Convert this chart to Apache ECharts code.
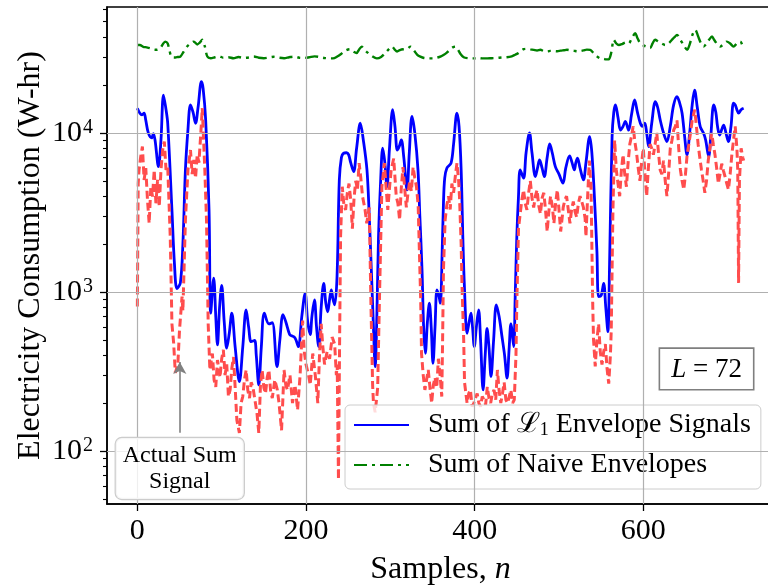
<!DOCTYPE html>
<html>
<head>
<meta charset="utf-8">
<script src="https://cdn.jsdelivr.net/npm/echarts@6/dist/echarts.min.js"></script>
<style>html,body{margin:0;padding:0;background:#fff}#chart{width:768px;height:587px}</style>
</head>
<body>
<div id="chart"></div>
<script>
// ---------- data (sample index n, watt-hours) ----------
const l1Envelope = [[0,14300],[3,13300],[5.5,13000],[8,13300],[10,12000],[13,10000],[17,9300],[19,9900],[21,9000],[25,6140],[28,9000],[31,17300],[34,14000],[36,11500],[41,3280],[44,1500],[47,1050],[51,1140],[54,2000],[57,5850],[60,10500],[63,15000],[66,13500],[69,11500],[72,14500],[76,21000],[78,19000],[81,12100],[85,3280],[87,735],[90.5,1220],[93,700],[95,465],[97.5,800],[100,1100],[103,650],[106,443],[109,550],[112,735],[116,450],[121,273],[125,450],[129,771],[132,600],[135,487],[139,495],[141,400],[144,260],[147,450],[150.6,735],[156,630],[160,640],[165.6,339],[169,500],[172.7,720],[176,650],[180.6,540],[183,530],[186,520],[188,500],[191,453],[195,700],[199,980],[202,650],[205,540],[207,700],[210,890],[212.5,600],[215,453],[218,800],[221,1130],[223.5,850],[225.7,750],[228,900],[230,1030],[232,900],[234,830],[236.8,1250],[239.5,5060],[242,7000],[244.6,7450],[248,7500],[250.5,7300],[253,6500],[256.5,5710],[260,8000],[264.4,11500],[268,9000],[272.3,5850],[275,3000],[277.5,1370],[280,600],[282,339],[284,700],[286,2230],[288.5,5000],[291,8010],[293.5,6500],[296,4590],[299,8000],[302.8,14000],[305.5,11000],[308.3,7800],[310.5,8200],[313,9040],[316,7000],[319.8,4380],[322.5,7500],[325.7,12700],[329,10000],[332.8,5850],[335,3000],[337.6,1370],[339.5,600],[341.5,411],[344,650],[346.3,850],[348.5,600],[350.6,356],[353,600],[355.3,1030],[357.5,950],[359.3,850],[361.5,1800],[363,3610],[364.5,5200],[367,6000],[372,6460],[375,8500],[379,13300],[381.5,11000],[384,5850],[386,2200],[387.8,1100],[391,550],[393.5,650],[395.7,735],[397.5,600],[399.6,453],[402,600],[404.7,771],[407,500],[410,242],[412.5,400],[414.7,590],[417,450],[419.4,294],[422.5,500],[425.7,830],[429,700],[432.4,524],[435.5,400],[438.4,287],[441,450],[443,630],[446.3,453],[448,900],[450,2230],[452,4000],[454,5850],[458,5190],[461,7500],[465,10000],[468,7500],[472,5310],[474.5,6000],[477,6760],[480,6000],[482.6,5310],[486,7000],[489,8530],[492,7500],[495.7,6140],[500,5500],[504.8,4830],[508,6000],[512.6,7170],[515.5,6500],[518.2,5850],[520,6500],[522,6930],[525,6000],[529,5060],[532,6500],[536.4,9480],[539,7500],[542,3980],[545,1800],[547,935],[550,950],[553,1130],[555.5,800],[558,563],[560,1500],[563,9480],[565,13500],[567,15000],[570,12500],[573,10400],[576,11000],[578.7,11800],[582.6,10400],[586,13000],[589.7,16100],[593,13500],[596.5,11500],[599,11000],[601.7,11500],[604,10000],[606.4,8200],[610,11500],[614.3,15700],[617,14500],[620,12100],[624,10000],[628,8820],[632,11000],[636,15000],[640,16900],[643,15500],[646,13300],[649,9500],[651.8,7280],[655,10000],[658,15000],[660.8,18600],[664,14500],[667.6,10900],[671.5,9950],[674,9000],[677.5,7100],[680,9500],[683.5,15000],[686,13500],[688,11000],[690.5,9700],[693,10500],[695.3,11200],[698,10000],[701,8820],[704,11000],[707,15400],[709,15000],[711,14000],[713,13300],[716,14000],[719,14300]];

const naiveEnvelope = [[0,35700],[3,35700],[7,34800],[11,34500],[15,34100],[19,33500],[23,33300],[27,34000],[30,36000],[33,37500],[36,36500],[38,33000],[41,29900],[45,29800],[48,30000],[51,30200],[55,32500],[59,34900],[63,36500],[67,37500],[71,36000],[74,37000],[77,38500],[80,35000],[83,30200],[87,29500],[92,29900],[97,30300],[102,29700],[108,29900],[114,29500],[120,30000],[126,29600],[132,29800],[138,30200],[144,29700],[150,29500],[156,29800],[162,30100],[168,29700],[174,29500],[180,29900],[186,30200],[192,29700],[198,29600],[204,29900],[210,30300],[216,30000],[222,29600],[228,29400],[232,29400],[237,30200],[242,31500],[247,33000],[252,33600],[256,32500],[260,31800],[263,33500],[266,34900],[269,33500],[273,32000],[278,30500],[284,29400],[289,30000],[294,31800],[298,33500],[302,34900],[305,33500],[308,32500],[312,33300],[316,33600],[320,33800],[324,34900],[328,33000],[332,31000],[335.6,30200],[340,29600],[346,29400],[351,29400],[356,29800],[360,30300],[363,30900],[367,32000],[371,33500],[374,34500],[377,34900],[380,33500],[383,31500],[387,29900],[392,29500],[398,29400],[404,29600],[410,29400],[415,29400],[420,29500],[426,29600],[432,29800],[438,29900],[444,30300],[448,31000],[452,31800],[455,32800],[458,33600],[462,33800],[466,33500],[470,33300],[474,33000],[478,33300],[482,32700],[486,32500],[490,32800],[494,32700],[498,32600],[502,32900],[506,33100],[509.5,33300],[514,33000],[518,32800],[522,32600],[525,32700],[529,33000],[533,33400],[537,33300],[541,31800],[545,30300],[549,29400],[553,29200],[556,29000],[559,29000],[562,32000],[565,38500],[568,36500],[571,35700],[575,36200],[579,37000],[582.6,36500],[586,39000],[590.5,42400],[593,39500],[596.5,36500],[600,35500],[604,34800],[608,34100],[611,36500],[614,38500],[618,37500],[622,36500],[626,35700],[630,36500],[634,38500],[637,40000],[640,41300],[644,38500],[648,35500],[652,33300],[655,36000],[658,41000],[661.7,44500],[665,40500],[668,37000],[671.5,34900],[675,36500],[678,38500],[681.5,40400],[684,38500],[688,36000],[691,34900],[695,36000],[699,37500],[703,36500],[707,34900],[711,36500],[715,37500],[718,34900]];

const actualSum = [[0,810],[1,4800],[2,5850],[4,7100],[6,8200],[8,5060],[10,6000],[12,3790],[14,2700],[16,4590],[18,3980],[20,5850],[22,3610],[24,5060],[26,3440],[28,5850],[30,7800],[32,8820],[34,5850],[36,6140],[38,3130],[39,2230],[41,630],[43,480],[45,310],[48,350],[50,577],[53,935],[54,760],[57,2840],[60,5850],[63,7800],[65,5500],[67,6760],[69,5200],[71,7300],[73,6500],[75,9480],[77,14300],[80,5850],[82,2840],[84,630],[86,323],[89,410],[91,280],[93,253],[95,373],[98,290],[100,380],[102,432],[104,300],[106,350],[108,220],[110,242],[112,330],[114,390],[116,250],[118,156],[121,130],[123,200],[125,220],[127,280],[129,323],[131,240],[133,215],[135,270],[137,253],[140,200],[142,170],[144,130],[146,260],[148,323],[150,250],[152,230],[154,290],[156,323],[158,240],[160,215],[163,280],[166,242],[168,200],[171,135],[174,323],[176,260],[178,242],[181,300],[184,200],[187,260],[190,181],[193,300],[196,660],[198,420],[200,350],[203,300],[205,260],[208,410],[211,300],[214,200],[216,400],[218,630],[220,450],[222,350],[225,420],[228,380],[231,520],[234,470],[236,300],[237,350],[238.5,66],[240,600],[241,2230],[243,4590],[245,3500],[247,3280],[249,4200],[251,4800],[253,3800],[255,2500],[257,3900],[259,5000],[261,4400],[263,6460],[265,5200],[267,4000],[270,3300],[272,2700],[275,3400],[277,850],[279,260],[280,200],[282,175],[284,220],[285,250],[287,850],[290,4590],[293,6460],[295,4500],[297,3280],[299,4500],[301,5850],[304,6900],[307,4000],[309,3600],[311,2840],[313,4500],[315,6100],[317,4500],[319,3400],[321,4200],[323,5000],[325,4300],[327,6100],[329,5200],[331,4590],[333,3500],[334,2230],[336,900],[337,410],[339,300],[341,242],[343,280],[345,323],[347,250],[349,200],[351,260],[353,290],[355,250],[357,380],[359,300],[361,220],[362,500],[363,1370],[365,2840],[367,3500],[369,4000],[371,3300],[373,4800],[375,4200],[377,5300],[379,6460],[381,5000],[382,4000],[384,2000],[385,1100],[387,500],[388,270],[391,200],[393,230],[395,242],[397,190],[399,200],[401,215],[403,230],[405,200],[407,190],[409,220],[411,210],[413,195],[415,253],[417,215],[419,200],[421,230],[423,242],[425,210],[427,323],[429,240],[431,200],[433,230],[435,270],[437,210],[439,200],[441,220],[443,242],[445,200],[447,210],[449,400],[450,850],[452,2500],[454,3100],[456,3800],[458,4380],[460,3600],[462,3280],[464,4200],[466,5000],[468,3900],[470,3400],[472,4000],[474,4380],[476,3500],[478,3100],[480,3900],[482,4200],[484,3300],[486,2400],[488,3200],[490,4000],[492,3500],[494,2700],[496,3600],[498,4380],[500,3300],[502,2400],[504,3000],[505,3400],[507,3800],[509,4000],[511,3300],[513,2700],[515,3300],[517,3700],[519,3200],[521,2950],[523,3600],[525,4000],[527,3700],[529,3400],[531,2900],[532,2230],[534,4000],[536,6700],[538,4590],[540,850],[541,500],[543,340],[545,500],[547,630],[549,420],[551,350],[553,420],[555,470],[557,330],[559,265],[561,400],[562,580],[564,3280],[566,9000],[568,5850],[570,4800],[572,4000],[574,5800],[576,7300],[578,5500],[580,4590],[582,6500],[584,8500],[586,9500],[588,11000],[590,8800],[592,7500],[594,6000],[596,5000],[598,6500],[600,8000],[602,5500],[604,4000],[606,6000],[608,8500],[610,8000],[612,7300],[614,8500],[616,10000],[618,7500],[620,5850],[622,5500],[624,6700],[626,5000],[628,4000],[630,5500],[632,8000],[634,9000],[636,10400],[638,11000],[640,12000],[642,8000],[644,5850],[646,5000],[648,4400],[650,5500],[652,7300],[654,8500],[656,10000],[658,12000],[661,14000],[663,11000],[665,8500],[667,7000],[669,5850],[671,5000],[673,4200],[675,5000],[677,6700],[679,8000],[681,10000],[683,8500],[685,7300],[687,6000],[689,4800],[691,5500],[693,6400],[695,5800],[697,5300],[699,4800],[701,4400],[703,5500],[705,7300],[707,9000],[709,11000],[711,8000],[712,5850],[713,1140],[714,5000],[716,8000],[718,7000],[719,6700]];

const xTicks = [0, 200, 400, 600];
const yMajorTicks = [100, 1000, 10000];
const yMinorTicks = [50,60,70,80,90,200,300,400,500,600,700,800,900,2000,3000,4000,5000,6000,7000,8000,9000,20000,30000,40000,50000,60000];
const seriesNames = ['Sum of L1 Envelope Signals', 'Sum of Naive Envelopes', 'Actual Sum Signal'];
const annotationText = 'Actual Sum\nSignal';
const windowLabel = '{i|L}{t| = 72}';
// ---------------------------------------------------------

const FONT = 'Liberation Serif';
const chart = echarts.init(document.getElementById('chart'), null, {renderer: 'canvas'});

const option = {
  animation: false,
  backgroundColor: '#ffffff',
  grid: {left: 107, top: 7, width: 667, height: 497, containLabel: false, outerBoundsMode: 'none',
         show: true, borderColor: '#000', borderWidth: 1.5, backgroundColor: 'transparent'},
  xAxis: {
    type: 'value', min: -36, max: 755,
    axisLine: {onZero: false, lineStyle: {color: '#000', width: 1.5}},
    axisTick: {length: 7, lineStyle: {color: '#000', width: 1.3}, customValues: xTicks},
    axisLabel: {customValues: xTicks, fontSize: 30, color: '#000', fontFamily: FONT, margin: 12},
    splitLine: {show: false},
    name: '{t|Samples, }{i|n}', nameLocation: 'middle', nameGap: 50, nameMoveOverlap: false,
    nameTextStyle: {fontSize: 32, color: '#000', fontFamily: FONT,
      rich: {t: {fontSize: 32, fontFamily: FONT, color: '#000'},
             i: {fontStyle: 'italic', fontSize: 32, fontFamily: FONT, color: '#000'}}}
  },
  yAxis: [{
    type: 'log', logBase: 10, min: 46.4, max: 61900,
    axisLine: {show: true, onZero: false, lineStyle: {color: '#000', width: 1.5}},
    axisTick: {length: 7, lineStyle: {color: '#000', width: 1.3}, customValues: yMajorTicks},
    axisLabel: {customValues: yMajorTicks, margin: 14, color: '#000', fontFamily: FONT, fontSize: 30,
      formatter: v => '{b|10}{sup|' + Math.round(Math.log10(v)) + '}',
      rich: {b: {fontSize: 30, fontFamily: FONT, color: '#000'},
             sup: {fontSize: 20, fontFamily: FONT, color: '#000', verticalAlign: 'top', padding: [0, 0, 0, 1]}}},
    splitLine: {show: false},
    name: 'Electricity Consumption (W-hr)', nameLocation: 'middle', nameGap: 60, nameMoveOverlap: false,
    nameTextStyle: {fontSize: 32, color: '#000', fontFamily: FONT}
  }, {
    type: 'log', logBase: 10, min: 46.4, max: 61900, position: 'left',
    axisLine: {show: false, onZero: false},
    axisTick: {show: true, length: 4, lineStyle: {color: '#000', width: 1.1}, customValues: yMinorTicks},
    axisLabel: {show: false},
    splitLine: {show: false}
  }],
  legend: {
    data: [seriesNames[0], seriesNames[1]],
    orient: 'vertical', left: 345, top: 405,
    itemWidth: 55, itemHeight: 14, itemGap: 12,
    padding: [6, 10, 10, 8],
    backgroundColor: 'rgba(255,255,255,0.8)', borderColor: '#cccccc', borderWidth: 1, borderRadius: 5,
    itemStyle: {opacity: 0, borderWidth: 0},
    formatter: name => name === seriesNames[0] ? '{t|Sum of }{s|ℒ}{sub|1}{t| Envelope Signals}' : '{t|' + name + '}',
    textStyle: {fontSize: 28, fontFamily: FONT, color: '#000', padding: [0, 0, 0, 14],
      rich: {t: {fontSize: 28, fontFamily: FONT, color: '#000'},
             s: {fontSize: 28, fontFamily: 'DejaVu Serif', color: '#000'},
             sub: {fontSize: 18, fontFamily: FONT, color: '#000', verticalAlign: 'bottom'}}}
  },
  series: [
    { // grid lines drawn through the axes' scales
      type: 'line', data: [], silent: true, z: 0, xAxisIndex: 0, yAxisIndex: 0,
      markLine: {silent: true, symbol: 'none', label: {show: false},
        lineStyle: {color: '#b0b0b0', width: 1.2, type: 'solid'},
        data: xTicks.map(v => ({xAxis: v})).concat(yMajorTicks.map(v => ({yAxis: v})))}
    },
    {
      name: seriesNames[1], type: 'line', data: naiveEnvelope, symbol: 'none', smooth: 0.3, z: 2,
      lineStyle: {color: '#008000', width: 2.4, type: [13, 5, 3, 5]}, itemStyle: {color: '#008000'}
    },
    {
      name: seriesNames[0], type: 'line', data: l1Envelope, symbol: 'none', smooth: 0.35, z: 2,
      lineStyle: {color: '#0000ff', width: 2.8}, itemStyle: {color: '#0000ff'},
      markPoint: {silent: true, symbol: 'rect', symbolSize: 1, itemStyle: {color: 'rgba(0,0,0,0)'},
        data: [{coord: [675, 328], value: 0}],
        label: {show: true, position: 'inside', formatter: windowLabel, fontSize: 27, fontFamily: FONT, color: '#000',
          backgroundColor: '#ffffff', borderColor: '#7f7f7f', borderWidth: 1.6, padding: [7, 11, 6, 11],
          rich: {i: {fontStyle: 'italic', fontSize: 27, fontFamily: FONT, color: '#000'},
                 t: {fontSize: 27, fontFamily: FONT, color: '#000'}}}}
    },
    {
      name: seriesNames[2], type: 'line', data: actualSum, symbol: 'none', z: 3,
      lineStyle: {color: '#ff4d4d', width: 3, type: [8, 4]}, itemStyle: {color: '#ff4d4d'},
      markLine: {silent: true, symbol: ['none', 'arrow'], symbolSize: [10, 12], label: {show: false},
        lineStyle: {color: '#808080', width: 1.6, type: 'solid'},
        data: [[{coord: [50.3, 130]}, {coord: [50.3, 363]}]]},
      markPoint: {silent: true, symbol: 'rect', symbolSize: 1, itemStyle: {color: 'rgba(0,0,0,0)'},
        data: [{coord: [50.3, 77.6], value: 0}],
        label: {show: true, position: 'inside', formatter: annotationText, fontSize: 24, lineHeight: 26,
          fontFamily: FONT, color: '#000', align: 'center',
          backgroundColor: 'rgba(255,255,255,0.8)', borderColor: '#cccccc', borderWidth: 1.2, borderRadius: 6,
          padding: [4, 7, 5, 7]}}
    }
  ]
};
chart.setOption(option);
</script>
</body>
</html>
